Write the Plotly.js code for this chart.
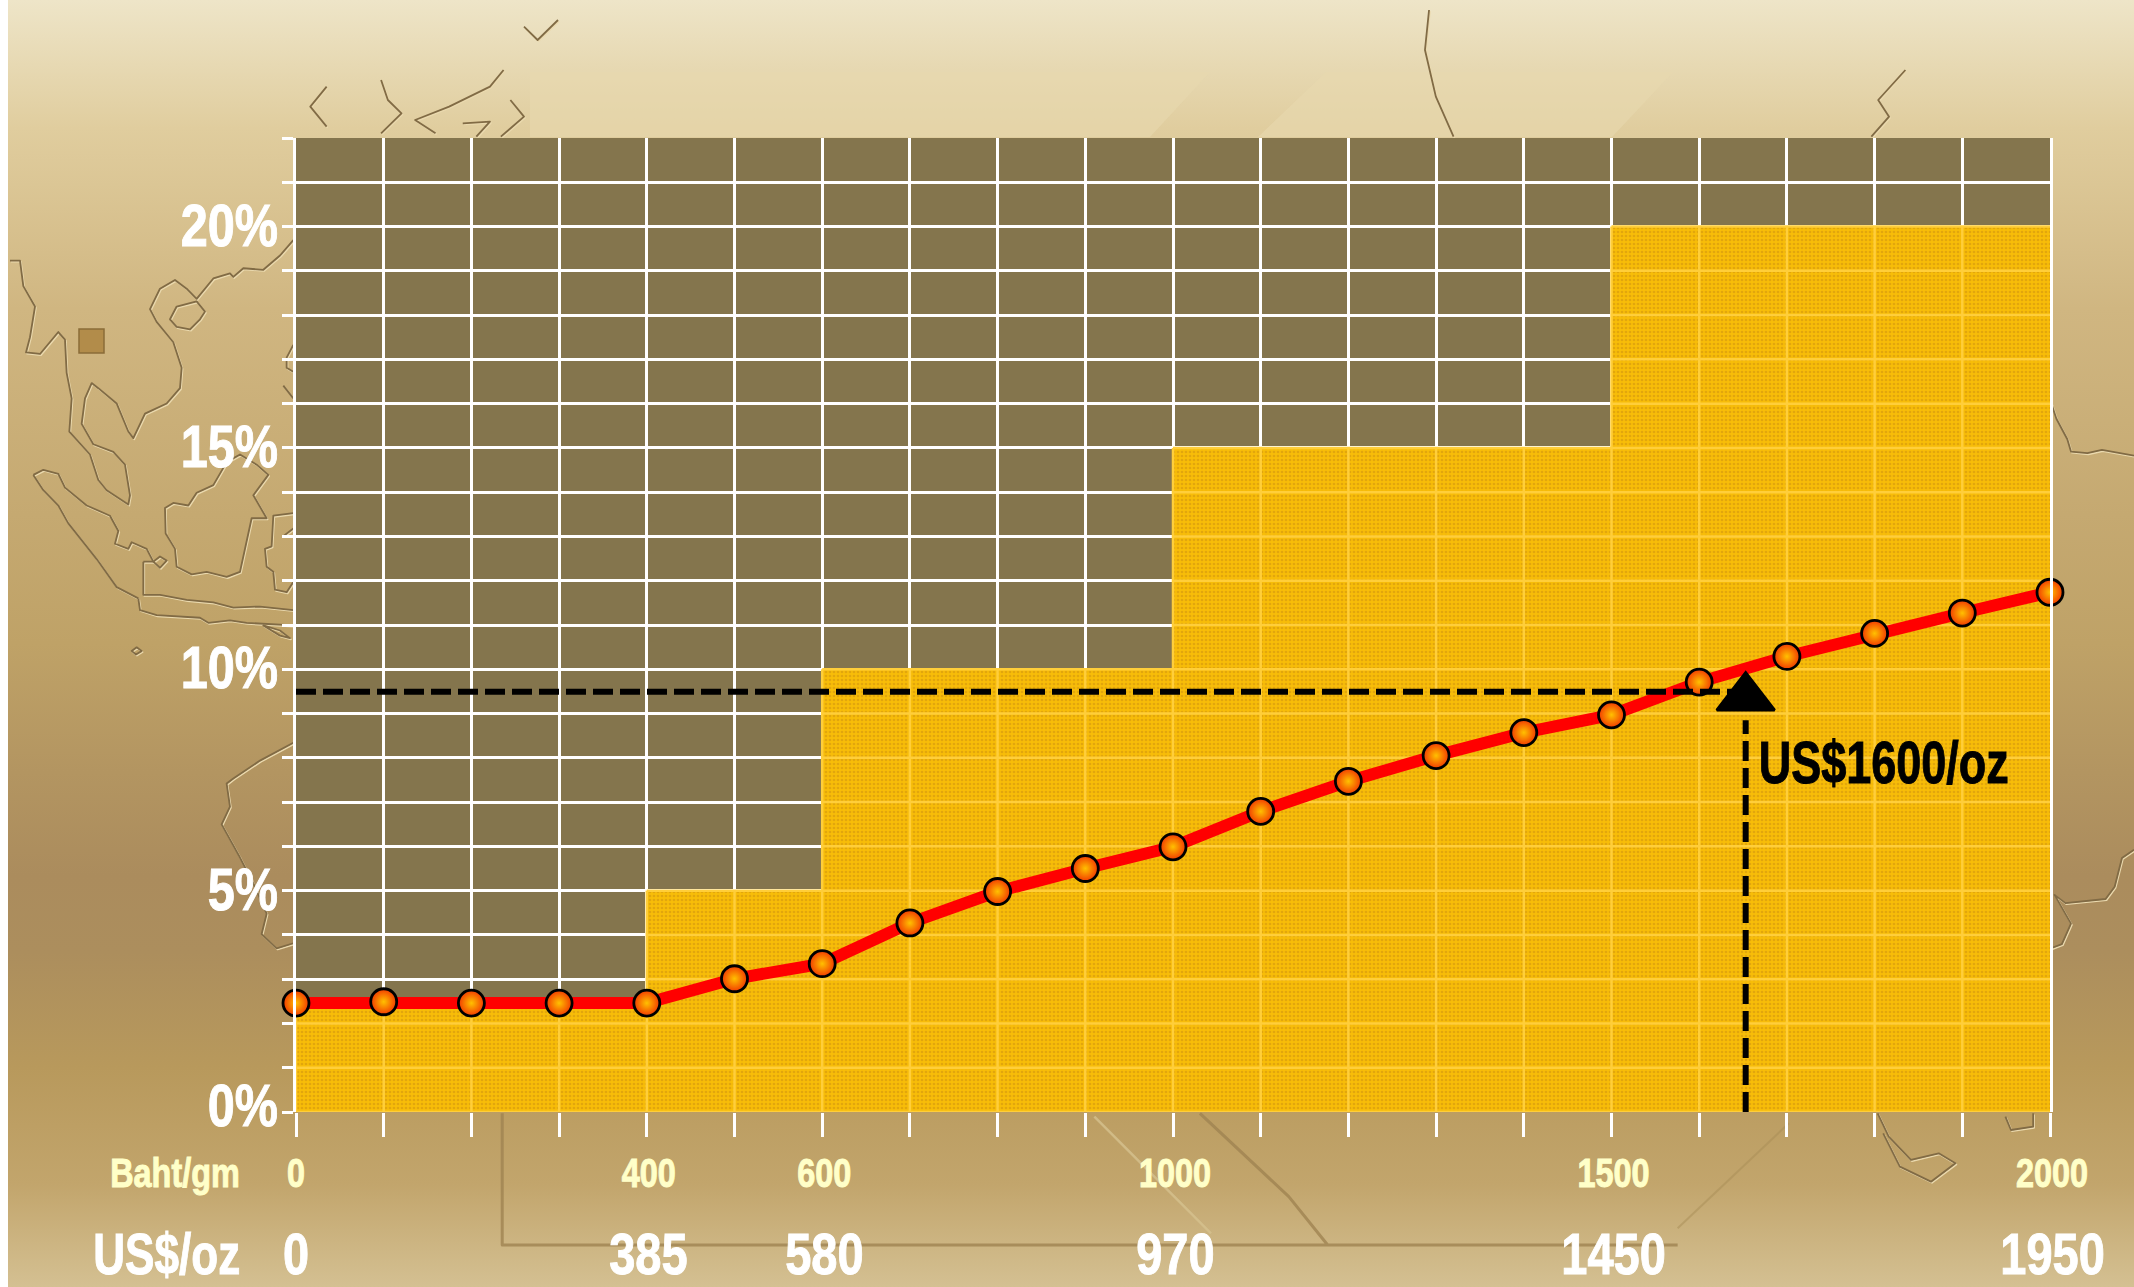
<!DOCTYPE html>
<html>
<head>
<meta charset="utf-8">
<script src="https://cdn.plot.ly/plotly-3.0.1.min.js"></script>
<style>
html,body{margin:0;padding:0;width:2134px;height:1287px;overflow:hidden;background:#fff}
#bg{position:absolute;left:0;top:0}
#chart{position:absolute;left:0;top:0;width:2134px;height:1287px}
.c path{vector-effect:non-scaling-stroke;fill:none;stroke-linejoin:round}
</style>
</head>
<body>
<svg id="bg" width="2134" height="1287" viewBox="0 0 2134 1287" xmlns="http://www.w3.org/2000/svg">
<defs>
<linearGradient id="sand" x1="0" y1="0" x2="0" y2="1">
<stop offset="0" stop-color="#EEE5C8"/>
<stop offset="0.10" stop-color="#E0CD9E"/>
<stop offset="0.24" stop-color="#D0B681"/>
<stop offset="0.40" stop-color="#C5A971"/>
<stop offset="0.50" stop-color="#BFA267"/>
<stop offset="0.60" stop-color="#B39561"/>
<stop offset="0.68" stop-color="#AB8C5D"/>
<stop offset="0.74" stop-color="#AC8E5D"/>
<stop offset="0.83" stop-color="#B8995C"/>
<stop offset="0.92" stop-color="#C2A56C"/>
<stop offset="1" stop-color="#D4C092"/>
</linearGradient>
<g id="coast">
<g class="c" transform="translate(0,230) scale(0.3333,0.5102)">
<path d="M30,60 L60,60 L70,110 L105,150 L90,210 L78,240 L120,243 L175,200 L195,215 L200,280 L215,330 L208,395 L270,440 L295,490 L320,510 L385,538 L390,520 L375,460 L340,435 L280,420 L245,380 L255,330 L275,300 L295,310 L350,340 L385,395 L400,408 L435,360 L500,340 L540,310 L545,270 L520,220 L470,180 L450,155 L480,115 L525,98 L560,115 L590,135 L640,95 L690,85 L700,92 L730,75 L790,78 L840,50 L880,20"/>
<path d="M510,175 L530,150 L590,140 L615,160 L600,175 L570,195 L530,190 Z"/>
<path d="M100,480 L130,470 L175,478 L195,505 L260,540 L330,560 L355,590 L345,615 L385,625 L395,612 L440,625 L460,650 L430,650 M100,480 L130,510 L175,540 L205,575 L290,645 L350,700 L415,722"/>
<path d="M415,722 L420,745 L470,755 L600,760 L625,770 L690,765 L740,770 L880,775 M430,650 L430,715 L480,715 L560,725 L640,730 L700,740 L780,738 L880,745"/>
<path d="M460,650 L480,640 L500,648 L480,662 Z"/>
<path d="M495,545 L520,535 L565,540 L590,515 L640,500 L680,455 L720,440 L770,460 L805,480 L760,520 L800,565 L755,565 L740,610 L720,670 L680,680 L620,670 L575,675 L530,660 L525,625 L497,595 Z"/>
<path d="M880,555 L820,560 L815,620 L795,625 L800,660 L820,670 L825,705 L860,710 L880,690 M850,600 L880,585"/>
<path d="M790,775 L840,785 L870,800 L840,795 Z"/>
<path d="M395,825 L410,818 L425,825 L408,832 Z"/>
<path d="M860,250 L880,225 M860,250 L860,270 L880,278 M850,305 L880,330"/>
<path d="M880,1005 L780,1040 L700,1075 L680,1085 L690,1130 L665,1165 L720,1230 L760,1280 L800,1340 L785,1380 L830,1408 L880,1398"/>
</g>
<g class="c" transform="scale(1.361,0.3333)">
<path d="M385,80 L395,120 L410,60 M240,260 L228,320 L240,380 M280,240 L285,300 L295,340 L280,400 M370,210 L360,260 L330,320 L305,360 L320,400 M340,370 L360,365 L350,410 M375,300 L385,350 L368,410"/>
<path d="M1400,210 L1380,300 L1388,350 L1375,410"/>
<path d="M1050,30 L1047,150 L1055,290 L1068,410"/>
</g>
<g class="c" transform="translate(400,1110) scale(1.111,0.3333)">
<path d="M1330,10 L1340,80 L1360,150 L1385,130 L1400,160 L1378,215 L1350,170 L1335,70 M1445,20 L1450,60 L1470,50 L1470,10"/>
</g>
<g class="c" transform="translate(2040,0) scale(0.3643,0.821)">
<path d="M30,490 L45,510 L75,535 L85,550 L130,552 L170,548 L258,555"/>
<path d="M258,1035 L225,1045 L205,1080 L180,1095 L70,1100 L40,1090 L85,1125 L60,1150 L30,1155"/>
</g>
</g>
</defs>
<rect width="2134" height="1287" fill="url(#sand)"/>
<polygon points="530,72 1210,72 1150,137 530,137" fill="#E8D9AF" opacity="0.6"/>
<polygon points="1326,72 1673,72 1612,137 1258,137" fill="#E8D9AF" opacity="0.6"/>
<g class="c" transform="translate(400,1110) scale(1.111,0.3333)">
<path d="M92,10 L92,405 L835,405 L800,260 L720,10 M835,405 L1150,405" stroke="#A08452" stroke-width="3" opacity="0.8"/>
<path d="M625,20 L730,370" stroke="#D6C28F" stroke-width="2.5" opacity="0.8"/>
<path d="M1250,40 L1150,355" stroke="#A98E57" stroke-width="2" opacity="0.5"/>
</g>
<use href="#coast" x="1" y="1.2" stroke="#EAD9AE" stroke-width="1.6"/>
<use href="#coast" stroke="#816B45" stroke-width="1.8"/>
<rect x="79" y="329" width="25" height="24" fill="#B28C4A" stroke="#8A6C38" stroke-width="1.5"/>
<rect x="0" y="0" width="8" height="1287" fill="#FFFFFF"/>
</svg>
<div id="chart"></div>
<script>
// Baht per gram on the x axis
const bahtGm = [0,100,200,300,400,500,600,700,800,900,1000,1100,1200,1300,1400,1500,1600,1700,1800,1900,2000];
// Series values, percent
const ratePct = [2.46,2.49,2.46,2.46,2.46,3.01,3.35,4.27,4.98,5.50,5.99,6.79,7.47,8.05,8.57,8.97,9.71,10.29,10.81,11.27,11.74];
// Stepped gold region
const bandStart = [0,400,600,1000,1500];
const bandEnd = [400,600,1000,1500,2000];
const bandTop = [2.5,5,10,15,20];
// Axis labels
const yTickVals = [0,1,2,3,4,5,6,7,8,9,10,11,12,13,14,15,16,17,18,19,20,21,22];
const yLabelVals = [0,5,10,15,20];
const bahtLabelVals = [0,400,600,1000,1500,2000];
const usdLabelVals = ['0','385','580','970','1450','1950'];
// Reference reading
const markerBaht = 1653;
const markerPct = 9.49;
const triangleCentrePct = 9.36;
const markerStemTop = 8.85;
const markerLabel = 'US$1600/oz';
const markerLabelBaht = 1811;
const markerLabelPct = 7.9;

const FONT = '"Liberation Sans",Arial,sans-serif';

// Pale gridlines laid over the gold, limited to each band
const gx = [], gy = [];
bandStart.forEach((s,i)=>{
  const e = bandEnd[i], h = bandTop[i];
  for (let x=s; x<=e; x+=100){ if(x<e){ gx.push(x,x,null); gy.push(0,h,null);} }
  for (let y=0; y<=h; y+=1){ gx.push(s,e,null); gy.push(y,y,null); }
});

const traces = [
 {type:'bar', x:bandStart.map((s,i)=>(s+bandEnd[i])/2), y:bandTop, width:bandStart.map((s,i)=>bandEnd[i]-s),
  marker:{color:'#F6B908', line:{width:0}, pattern:{shape:'.', size:4, solidity:0.35, fgcolor:'#E2A60C', bgcolor:'#F8BD08'}},
  hoverinfo:'skip', showlegend:false},
 {type:'scatter', mode:'lines', x:gx, y:gy, line:{color:'#FFCE3A', width:2.5}, hoverinfo:'skip', showlegend:false, connectgaps:false},
 {type:'scatter', mode:'lines', x:bahtGm, y:ratePct, line:{color:'#FF0000', width:12}, cliponaxis:false, showlegend:false},
 {type:'scatter', mode:'markers', x:bahtGm, y:ratePct, cliponaxis:false, showlegend:false,
  marker:{size:26, color:'#F23A00', gradient:{type:'radial', color:'#FFC000'}, line:{color:'#000000', width:2.8}}},
 {type:'scatter', mode:'lines', x:[0,markerBaht], y:[markerPct,markerPct], line:{color:'#000000', width:6, dash:'20px,7px'}, showlegend:false},
 {type:'scatter', mode:'lines', x:[markerBaht,markerBaht], y:[0,markerStemTop], line:{color:'#000000', width:6, dash:'20px,7px'}, showlegend:false},
 {type:'scatter', mode:'markers', x:[markerBaht], y:[triangleCentrePct], showlegend:false,
  marker:{symbol:'triangle-up', size:50, color:'#000000', line:{color:'#000000', width:3}}}
];

const annotations = [
 {xref:'paper', yref:'paper', x:0, y:0, xanchor:'center', yanchor:'middle', xshift:-121.5, yshift:-61, text:'Baht/gm', showarrow:false, font:{family:FONT, size:40, color:'#FFFFC8', weight:700}},
 {xref:'paper', yref:'paper', x:0, y:0, xanchor:'center', yanchor:'middle', xshift:-129.5, yshift:-141, text:'US$/oz', showarrow:false, font:{family:FONT, size:58, color:'#FFFFFF', weight:700}},
 {xref:'x', yref:'y', x:markerLabelBaht, y:markerLabelPct, xanchor:'center', yanchor:'middle', text:markerLabel, showarrow:false, font:{family:FONT, size:60, color:'#000000', weight:700}}
];
usdLabelVals.forEach((t,i)=>annotations.push({xref:'x', yref:'paper', x:bahtLabelVals[i], y:0, xanchor:'center', yanchor:'middle', yshift:-141, xshift:i===0?0:2, text:t, showarrow:false, font:{family:FONT, size:58, color:'#FFFFFF', weight:700}}));

const layout = {
 width:2134, height:1287,
 margin:{l:295.5, r:84, t:138, b:175, pad:0},
 paper_bgcolor:'rgba(0,0,0,0)', plot_bgcolor:'#84754D',
 showlegend:false, bargap:0,
 xaxis:{range:[0,2000], tickmode:'array', tickvals:bahtGm,
  ticktext:bahtGm.map(v=>bahtLabelVals.includes(v)?String(v):''),
  ticks:'outside', ticklen:24, tickwidth:3, tickcolor:'#FFFFFF', ticklabelstandoff:2,
  tickangle:0, showgrid:true, gridcolor:'#FFFFFF', gridwidth:3, zeroline:false, showline:false,
  tickfont:{family:FONT, size:40, color:'#FFFFC8', weight:700}},
 yaxis:{range:[0,22], tickmode:'array', tickvals:yTickVals,
  ticktext:yTickVals.map(v=>yLabelVals.includes(v)?v+'%':''),
  ticks:'outside', ticklen:11, tickwidth:3, tickcolor:'#FFFFFF', ticklabelstandoff:-8,
  showgrid:true, gridcolor:'#FFFFFF', gridwidth:3, zeroline:false, showline:true, mirror:true, linecolor:'#FFFFFF', linewidth:3,
  tickfont:{family:FONT, size:60, color:'#FFFFFF', weight:700}},
 annotations:annotations
};
Plotly.newPlot('chart', traces, layout, {displayModeBar:false, staticPlot:true}).then(()=>{
  // The original lettering is a condensed heavy face: narrow and thicken the installed bold
  document.querySelectorAll('#chart svg text').forEach(t=>{
    const s = t.textContent;
    if(!s) return;
    const k = s===markerLabel ? 0.75 : s==='US$/oz' ? 0.76 : 0.81;
    t.setAttribute('lengthAdjust','spacingAndGlyphs');
    t.setAttribute('textLength', (t.getComputedTextLength()*k).toFixed(1));
    t.style.stroke = t.style.fill;
    t.style.strokeWidth = '1px';
    if(/%$/.test(s)) t.setAttribute('dy', s==='0%' ? '-7' : '-2');
  });
  document.querySelectorAll('#chart svg .xtick text').forEach(t=>{
    if(t.textContent && t.textContent!=='0') t.setAttribute('dx','2');
  });
});
</script>
</body>
</html>
